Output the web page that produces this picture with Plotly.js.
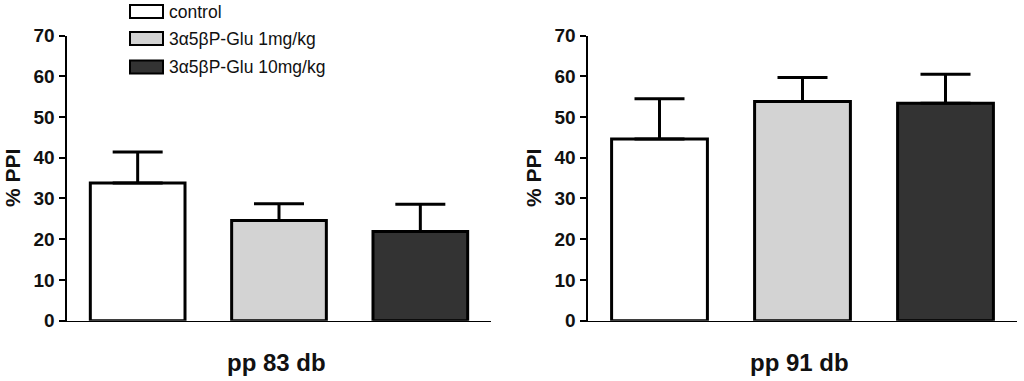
<!DOCTYPE html>
<html>
<head>
<meta charset="utf-8">
<script src="https://cdn.plot.ly/plotly-3.0.1.min.js"></script>
<style>html,body{margin:0;padding:0;background:#fff;}#chart{width:1024px;height:381px;}</style>
</head>
<body>
<div id="chart"></div>
<script>
// ---- data ----
const groups = ['control', '3\u03b15\u03b2P-Glu 1mg/kg', '3\u03b15\u03b2P-Glu 10mg/kg'];
const colors = ['#ffffff', '#d3d3d3', '#333333'];
const panelLabels = ['pp 83 db', 'pp 91 db'];
const ppi83 = [33.8, 24.6, 21.9];
const sem83 = [7.6, 4.1, 6.7];
const ppi91 = [44.6, 53.8, 53.4];
const sem91 = [9.9, 5.9, 7.1];
const yTicks = [0, 10, 20, 30, 40, 50, 60, 70];

const W = 1024, H = 381;
const px = v => v / W;
const py = v => (H - v) / H;
const FONT = 'Liberation Sans, Arial, Helvetica, sans-serif';

function barTrace(vals, errs, xa, ya) {
  return {
    type: 'bar',
    x: groups.map((g, i) => i),
    y: vals,
    xaxis: xa, yaxis: ya,
    width: 0.67,
    marker: {color: colors, line: {color: '#000', width: 3}},
    error_y: {type: 'data', array: errs, symmetric: false, arrayminus: errs.map(() => 0),
              color: '#000', thickness: 3, width: 25},
    showlegend: false,
    hoverinfo: 'skip'
  };
}

const data = [
  barTrace(ppi83, sem83, 'x', 'y'),
  barTrace(ppi91, sem91, 'x2', 'y2')
];

function xAx(dom, anchor) {
  return {domain: dom, anchor: anchor, range: [-0.5, 2.5], showline: true, linecolor: '#000',
          linewidth: 1.5, showticklabels: false, ticks: '', zeroline: false, showgrid: false, fixedrange: true};
}
function yAx(dom, anchor) {
  return {domain: dom, anchor: anchor, range: [0, 70], tickvals: yTicks, ticktext: yTicks.map(String),
          ticks: 'outside', ticklen: 6, tickwidth: 2, tickcolor: '#000',
          showline: true, linecolor: '#000', linewidth: 2.5, zeroline: false, showgrid: false,
          tickfont: {family: FONT, size: 19, color: '#111', weight: 'bold'}, fixedrange: true};
}

const yDom = [py(320.7), py(35.5)];

const shapes = [];
const annotations = [];
const legRows = [11.5, 38.5, 67];
groups.forEach((g, i) => {
  shapes.push({type: 'rect', xref: 'paper', yref: 'paper',
    x0: px(130), x1: px(163), y0: py(legRows[i] + 6.5), y1: py(legRows[i] - 6.5),
    fillcolor: colors[i], line: {color: '#000', width: 2}});
  annotations.push({xref: 'paper', yref: 'paper', x: px(167), y: py(legRows[i]),
    xanchor: 'left', yanchor: 'middle', showarrow: false, text: g,
    font: {family: FONT, size: 17.5, color: '#111'}});
});
// panel x labels
[[276, 0], [799, 1]].forEach(([cx, k]) => {
  annotations.push({xref: 'paper', yref: 'paper', x: px(cx), y: py(362), xanchor: 'center', yanchor: 'middle',
    showarrow: false, text: panelLabels[k], font: {family: FONT, size: 24, color: '#111', weight: 'bold'}});
});
// y titles
[12, 533].forEach(cx => {
  annotations.push({xref: 'paper', yref: 'paper', x: px(cx), y: py(178), xanchor: 'center', yanchor: 'middle',
    showarrow: false, textangle: -90, text: '% PPI', font: {family: FONT, size: 21, color: '#111', weight: 'bold'}});
});

const layout = {
  width: W, height: H,
  margin: {l: 0, r: 0, t: 0, b: 0},
  paper_bgcolor: '#fff', plot_bgcolor: '#fff',
  bargap: 0.33,
  xaxis: xAx([px(67), px(491)], 'y'),
  yaxis: yAx(yDom, 'x'),
  xaxis2: xAx([px(588), px(1017)], 'y2'),
  yaxis2: yAx(yDom, 'x2'),
  shapes: shapes,
  annotations: annotations,
  showlegend: false
};

Plotly.newPlot('chart', data, layout, {displayModeBar: false, staticPlot: true});
</script>
</body>
</html>
